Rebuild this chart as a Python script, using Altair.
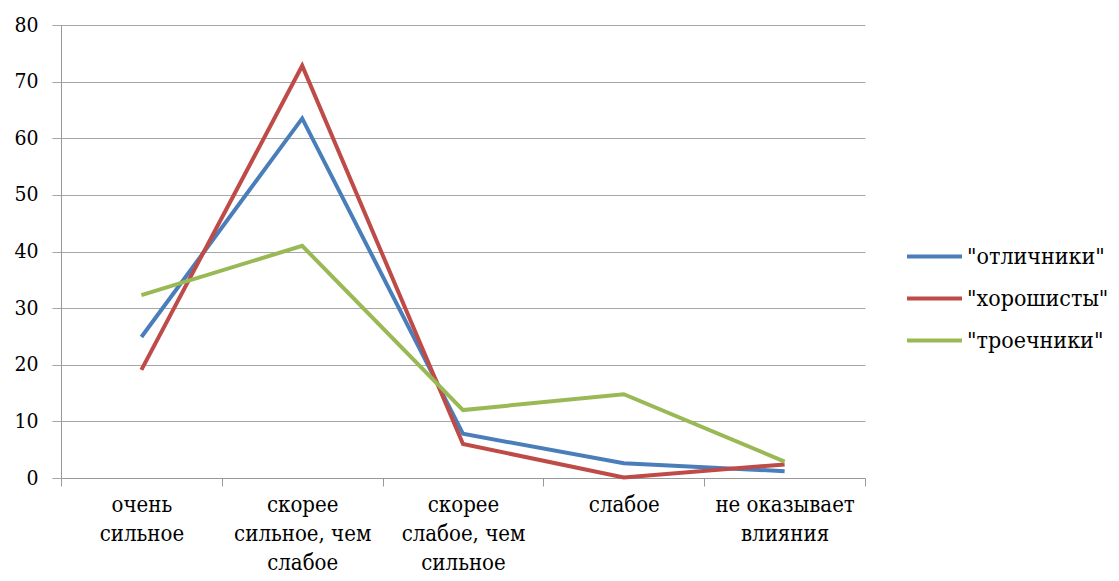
import altair as alt
import pandas as pd

categories = ["очень сильное", "скорее сильное, чем слабое", "скорее слабое, чем сильное",
              "слабое", "не оказывает влияния"]
tick_lines = [["очень", "сильное"], ["скорее", "сильное, чем", "слабое"],
              ["скорее", "слабое, чем", "сильное"], ["слабое"], ["не оказывает", "влияния"]]
series = ['"отличники"', '"хорошисты"', '"троечники"']
otlichniki = [24.9, 63.5, 7.8, 2.6, 1.2]
horoshisty = [19.1, 72.8, 6.0, 0.1, 2.4]
troechniki = [32.3, 41.0, 12.0, 14.8, 2.9]
colors = ["#4A7EBB", "#BE4B48", "#98B954"]

rows = []
for s, vals in zip(series, [otlichniki, horoshisty, troechniki]):
    for c, v in zip(categories, vals):
        rows.append({"cat": c, "series": s, "value": v})
df = pd.DataFrame(rows)

label_expr = ""
for c, lines in zip(categories, tick_lines):
    arr = "[" + ",".join("'" + l + "'" for l in lines) + "]"
    label_expr += f"datum.value == '{c}' ? {arr} : "
label_expr += "datum.value"

font = "DejaVu Serif Condensed, DejaVu Serif"

chart = alt.Chart(df).mark_line(strokeWidth=4).encode(
    x=alt.X("cat:N", sort=categories, bandPosition=0.5,
            scale=alt.Scale(type="band", paddingInner=0, paddingOuter=0),
            axis=alt.Axis(title=None, labelExpr=label_expr, labelAngle=0, tickBand="extent",
                          grid=False, domainColor="#999999", tickColor="#999999", tickSize=8,
                          labelFont=font, labelFontSize=22, labelColor="#000000",
                          labelLineHeight=29, labelPadding=8, labelBaseline="top")),
    y=alt.Y("value:Q", scale=alt.Scale(domain=[0, 80], nice=False),
            axis=alt.Axis(title=None, values=list(range(0, 81, 10)), grid=True,
                          gridColor="#A6A6A6", gridWidth=1.2, domainColor="#999999",
                          tickColor="#A6A6A6", tickSize=9, labelPadding=14,
                          labelFont=font, labelFontSize=21, labelColor="#000000")),
    color=alt.Color("series:N", sort=series,
                    scale=alt.Scale(domain=series, range=colors),
                    legend=alt.Legend(title=None, orient="none", legendX=844, legendY=202,
                                      symbolType="stroke", symbolSize=3025,
                                      symbolStrokeWidth=4, labelFont=font, labelFontSize=23,
                                      labelLimit=300, labelColor="#000000", rowPadding=-8,
                                      labelOffset=3)),
).properties(
    width=804, height=453,
    autosize=alt.AutoSizeParams(type="none"),
    padding={"left": 53, "top": 17, "right": 246, "bottom": 100},
).configure(font=font).configure_view(stroke=None)

chart.save("out.html", embed_options={"renderer": "svg", "actions": False})
